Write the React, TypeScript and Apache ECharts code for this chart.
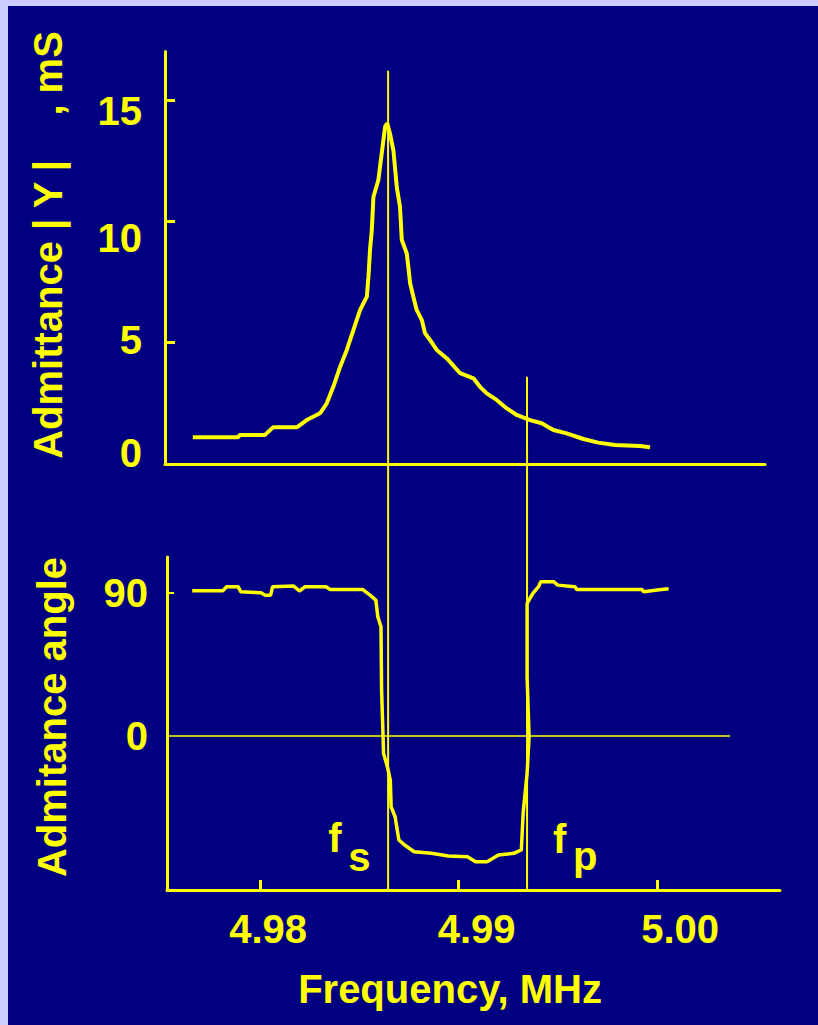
import React, { useEffect, useRef } from 'react';
import * as echarts from 'echarts';

// ---- data ----
const admFreq = [4.97661, 4.97889, 4.97899, 4.98025, 4.98065, 4.98185, 4.98235, 4.98302, 4.98336, 4.98369, 4.98403, 4.98437, 4.9847, 4.98504, 4.98538, 4.98546, 4.98554, 4.98563, 4.98571, 4.98596, 4.98613, 4.9863, 4.98641, 4.98655, 4.98672, 4.98689, 4.98705, 4.98714, 4.98739, 4.98747, 4.98756, 4.98772, 4.98789, 4.98815, 4.98831, 4.98856, 4.9889, 4.98941, 4.99008, 4.99075, 4.99108, 4.99142, 4.99192, 4.99243, 4.99293, 4.9936, 4.99419, 4.99478, 4.99545, 4.99629, 4.99704, 4.99788, 4.99914, 4.99965];
const admValue = [1.1, 1.1, 1.2, 1.2, 1.51, 1.51, 1.81, 2.09, 2.5, 3.18, 4.0, 4.7, 5.52, 6.35, 6.9, 7.72, 8.82, 9.64, 11.0, 11.7, 12.8, 13.9, 14.04, 13.6, 12.9, 11.4, 10.6, 9.23, 8.68, 8.13, 7.45, 6.9, 6.35, 5.93, 5.39, 5.11, 4.7, 4.35, 3.74, 3.53, 3.18, 2.91, 2.64, 2.29, 2.02, 1.81, 1.68, 1.4, 1.26, 1.03, 0.88, 0.78, 0.74, 0.69];

const angFreq = [4.97658, 4.97812, 4.97831, 4.97889, 4.97903, 4.98005, 4.98024, 4.98053, 4.98063, 4.98169, 4.98198, 4.98227, 4.98332, 4.98352, 4.98516, 4.98554, 4.98583, 4.98593, 4.98609, 4.98612, 4.98622, 4.98641, 4.98656, 4.9866, 4.9868, 4.98699, 4.98728, 4.98776, 4.98863, 4.98949, 4.99045, 4.99085, 4.99143, 4.99201, 4.99278, 4.99316, 4.99325, 4.99345, 4.99355, 4.99345, 4.99345, 4.99374, 4.99403, 4.99413, 4.9948, 4.99499, 4.99586, 4.99595, 4.99923, 4.99933, 5.0, 5.00058];
const angValue = [91.4, 91.4, 94.0, 94.0, 90.8, 90.2, 88.7, 88.7, 94.0, 94.4, 91.3, 94.0, 94.0, 92.3, 92.3, 88.7, 85.6, 75.1, 68.8, 28.9, -10.9, -19.3, -27.7, -44.5, -50.8, -65.4, -68.6, -72.8, -73.8, -75.5, -76.0, -79.1, -79.1, -74.9, -73.8, -71.7, -48.6, -23.5, -0.4, 37.3, 83.5, 89.8, 94.0, 97.1, 97.1, 95.0, 94.0, 92.3, 92.3, 90.8, 91.9, 92.7];

const FS = 4.98645; // series resonance
const FP = 4.99345; // parallel resonance
const FS_TOP = 16.2; // top end of fs marker (mS)
const FP_TOP = 3.6; // top end of fp marker (mS)

const xTickValues = [4.98, 4.99, 5.0];
const xTickLabels = ['4.98', '4.99', '5.00'];
const yTopTicks = [5, 10, 15];
const yTopLabels = [0, 5, 10, 15];
const yBottomTicks = [90];
const yBottomLabels = [0, 90];

const X_MIN_TOP = 4.97521;
const X_MAX_TOP = 5.00544;
const X_MIN_BOT = 4.97531;
const X_MAX_BOT = 5.00619;
const Y_MAX_TOP = 17;
const Y_MIN_BOT = -96.9;
const Y_MAX_BOT = 112.7;
const ZERO_END = 5.00368;

const YEL = '#ffff00';
const NAVY = '#000080';
const LAV = '#ccccff';
const FONT = '"Liberation Sans", Arial, Helvetica, sans-serif';
const FS40 = { fontFamily: FONT, fontWeight: 'bold' as const, fontSize: 40, color: YEL };

export default function App() {
  const ref = useRef<HTMLDivElement>(null);
  useEffect(() => {
    document.body.style.margin = '0';
    const el = ref.current!;
    const chart = echarts.init(el, undefined, { renderer: 'svg' });

    const topLabelShift: Record<number, number[]> = {
      0: [0, 0, 22, 0],
      5: [0, 0, 5, 0],
      10: [34, 0, 0, 0],
      15: [22, 0, 0, 0],
    };
    const xLabelShift = [[0, 0, 0, 16], [0, 0, 0, 36], [0, 0, 0, 46]];

    const richTop: any = {};
    yTopLabels.forEach((v) => { richTop['t' + v] = { ...FS40, padding: topLabelShift[v] }; });
    const richX: any = {};
    xTickValues.forEach((_, i) => { richX['x' + i] = { ...FS40, padding: xLabelShift[i] }; });

    const option: any = {
      animation: false,
      backgroundColor: NAVY,
      grid: [
        { left: 165, top: 464 - 17 * 24.27, width: 600, height: 17 * 24.27 },
        { left: 167, top: 557, width: 613, height: 333 },
      ],
      xAxis: [
        {
          type: 'value', gridIndex: 0, min: X_MIN_TOP, max: X_MAX_TOP,
          axisLine: { onZero: false, lineStyle: { color: YEL, width: 3 } },
          axisTick: { show: false }, axisLabel: { show: false }, splitLine: { show: false },
        },
        {
          type: 'value', gridIndex: 1, min: X_MIN_BOT, max: X_MAX_BOT,
          axisLine: { onZero: false, lineStyle: { color: YEL, width: 3 } },
          axisTick: { show: true, inside: true, length: 10, customValues: xTickValues, lineStyle: { color: YEL, width: 3 } },
          axisLabel: {
            customValues: xTickValues, margin: 19, ...FS40,
            formatter: (v: number) => {
              const i = xTickValues.findIndex((t) => Math.abs(t - v) < 1e-6);
              return i < 0 ? '' : `{x${i}|${xTickLabels[i]}}`;
            },
            rich: richX,
          },
          splitLine: { show: false },
        },
      ],
      yAxis: [
        {
          type: 'value', gridIndex: 0, min: 0, max: Y_MAX_TOP,
          axisLine: { onZero: false, lineStyle: { color: YEL, width: 3 } },
          axisTick: { show: true, inside: true, length: 10, customValues: yTopTicks, lineStyle: { color: YEL, width: 3 } },
          axisLabel: {
            customValues: yTopLabels, margin: 23, ...FS40,
            formatter: (v: number) => `{t${Math.round(v)}|${Math.round(v)}}`,
            rich: richTop,
          },
          splitLine: { show: false },
        },
        {
          type: 'value', gridIndex: 1, min: Y_MIN_BOT, max: Y_MAX_BOT,
          axisLine: { onZero: false, lineStyle: { color: YEL, width: 3 } },
          axisTick: { show: true, inside: true, length: 7, customValues: yBottomTicks, lineStyle: { color: YEL, width: 2 } },
          axisLabel: { customValues: yBottomLabels, margin: 19, ...FS40 },
          splitLine: { show: false },
        },
      ],
      series: [
        {
          type: 'line', xAxisIndex: 0, yAxisIndex: 0, symbol: 'none', silent: true,
          data: admFreq.map((f, i) => [f, admValue[i]]),
          lineStyle: { color: YEL, width: 4 },
        },
        {
          type: 'line', xAxisIndex: 1, yAxisIndex: 1, symbol: 'none', silent: true,
          data: angFreq.map((f, i) => [f, angValue[i]]),
          lineStyle: { color: YEL, width: 3.5 },
          markLine: {
            silent: true, symbol: 'none', label: { show: false },
            lineStyle: { color: YEL, width: 1.5, type: 'solid' },
            data: [[{ coord: [X_MIN_BOT, 0] }, { coord: [ZERO_END, 0] }]],
          },
        },
      ],
    };
    chart.setOption(option);

    const fsTop = chart.convertToPixel({ gridIndex: 0 } as any, [FS, FS_TOP]) as number[];
    const fsBot = chart.convertToPixel({ gridIndex: 1 } as any, [FS, Y_MIN_BOT]) as number[];
    const fpTop = chart.convertToPixel({ gridIndex: 0 } as any, [FP, FP_TOP]) as number[];
    const fpBot = chart.convertToPixel({ gridIndex: 1 } as any, [FP, Y_MIN_BOT]) as number[];

    const txt = (text: string, x: number, y: number, extra: any = {}) => ({
      type: 'text', x, y, silent: true, ...extra,
      style: { text, fill: YEL, font: `bold 40px ${FONT}`, align: 'left', verticalAlign: 'middle', ...(extra.style || {}) },
    });

    chart.setOption({
      graphic: [
        { type: 'rect', shape: { x: 0, y: 0, width: 818, height: 6 }, style: { fill: LAV }, silent: true },
        { type: 'rect', shape: { x: 0, y: 0, width: 8, height: 1025 }, style: { fill: LAV }, silent: true },
        { type: 'line', shape: { x1: fsTop[0], y1: fsTop[1], x2: fsBot[0], y2: fsBot[1] }, style: { stroke: YEL, lineWidth: 2 }, silent: true },
        { type: 'line', shape: { x1: fpTop[0], y1: fpTop[1], x2: fpBot[0], y2: fpBot[1] }, style: { stroke: YEL, lineWidth: 2 }, silent: true },
        txt('f', fsBot[0] - 60, 838),
        txt('s', fsBot[0] - 40, 857),
        txt('f', fpBot[0] + 26, 839),
        txt('p', fpBot[0] + 46, 856),
        {
          type: 'text', x: 48, y: 245, rotation: Math.PI / 2, silent: true,
          style: { text: 'Admittance | Y |    , mS', fill: YEL, font: `bold 40px ${FONT}`, align: 'center', verticalAlign: 'middle' },
        },
        {
          type: 'text', x: 52, y: 717, rotation: Math.PI / 2, silent: true,
          style: { text: 'Admitance angle', fill: YEL, font: `bold 40px ${FONT}`, align: 'center', verticalAlign: 'middle' },
        },
        {
          type: 'text', x: 450, y: 989, silent: true,
          style: { text: 'Frequency, MHz', fill: YEL, font: `bold 40px ${FONT}`, align: 'center', verticalAlign: 'middle' },
        },
      ],
    });

    return () => chart.dispose();
  }, []);
  return <div ref={ref} style={{ width: 818, height: 1025 }} />;
}
